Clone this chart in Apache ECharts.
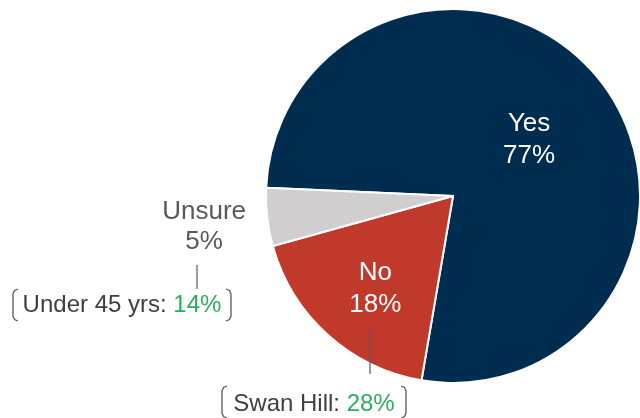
<!DOCTYPE html>
<html>
<head>
<meta charset="utf-8">
<script src="https://cdn.jsdelivr.net/npm/echarts@6/dist/echarts.min.js"></script>
<style>
  html, body { margin: 0; padding: 0; background: #fff; }
  #chart { width: 640px; height: 418px; }
</style>
</head>
<body>
<div id="chart"></div>
<script>
// Answers and their shares (%)
const categories = ['Yes', 'No', 'Unsure'];
const shares = [77, 18, 5];
const sliceColors = ['#002d4f', '#c0392b', '#d0cece'];

// Sub-group callouts attached to slices
const calloutSlices = ['Unsure', 'No'];
const calloutGroups = ['Under 45 yrs', 'Swan Hill'];
const calloutValues = [14, 28];

const FONT = '"Liberation Sans", Arial, sans-serif';

// Label placement per slice (inside label nudged into place)
const labelPlacement = {
  Yes: { color: '#fff', offset: [1, 4], lineHeight: 32 },
  No: { color: '#fff', offset: [-13, 21], lineHeight: 32 },
  Unsure: { color: '#595959', offset: [-153, 20], lineHeight: 30 }
};

const chart = echarts.init(document.getElementById('chart'), null, { renderer: 'canvas' });

const pieData = categories.map((name, i) => ({
  name,
  value: shares[i],
  itemStyle: { color: sliceColors[i] },
  label: {
    color: labelPlacement[name].color,
    offset: labelPlacement[name].offset,
    lineHeight: labelPlacement[name].lineHeight
  }
}));

// Callout brackets with softened corners
function bracket(x, y, h, dir) {
  const d = 5 * dir, c = 1.5 * dir;
  return {
    type: 'polyline',
    z: 10,
    shape: {
      points: [
        [x + d, y], [x + c, y + 1.5], [x, y + 5],
        [x, y + h - 5], [x + c, y + h - 1.5], [x + d, y + h]
      ]
    },
    style: { fill: null, stroke: '#595959', lineWidth: 1.3 }
  };
}

const calloutBoxes = [
  { left: 13, right: 231, top: 289, h: 32, textX: 122, textY: 305, lineX: 197, lineY0: 265, lineY1: 289 },
  { left: 222, right: 406, top: 386, h: 32, textX: 314, textY: 404, lineX: 370, lineY0: 330, lineY1: 374 }
];

const graphics = [];
calloutGroups.forEach((g, i) => {
  const b = calloutBoxes[i];
  graphics.push({
    type: 'line',
    z: 10,
    shape: { x1: b.lineX, y1: b.lineY0, x2: b.lineX, y2: b.lineY1 },
    style: { stroke: '#595959', lineWidth: 1.2 }
  });
  graphics.push(bracket(b.left, b.top, b.h, 1));
  graphics.push(bracket(b.right, b.top, b.h, -1));
  graphics.push({
    type: 'text',
    z: 10,
    x: b.textX,
    y: b.textY,
    style: {
      text: `{n|${g}: }{v|${calloutValues[i]}%}`,
      align: 'center',
      verticalAlign: 'middle',
      rich: {
        n: { fontFamily: FONT, fontSize: 24, fill: '#404040' },
        v: { fontFamily: FONT, fontSize: 24, fill: '#2aae5e' }
      }
    }
  });
});

chart.setOption({
  animation: false,
  backgroundColor: '#ffffff',
  series: [{
    type: 'pie',
    z: 2,
    center: [453, 196],
    radius: [0, 187],
    startAngle: 177.5,
    clockwise: true,
    avoidLabelOverlap: false,
    itemStyle: { borderColor: '#ffffff', borderWidth: 2 },
    label: {
      show: true,
      position: 'inside',
      formatter: '{b}\n{c}%',
      fontFamily: FONT,
      fontSize: 26,
      lineHeight: 32,
      align: 'center'
    },
    labelLine: { show: false },
    emphasis: { disabled: true },
    data: pieData
  }],
  graphic: { elements: graphics }
});
</script>
</body>
</html>
